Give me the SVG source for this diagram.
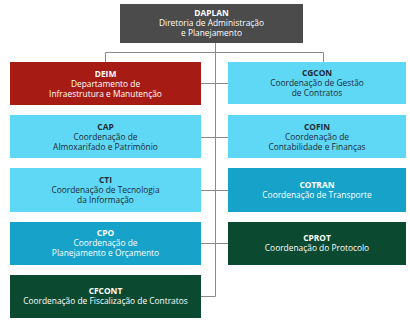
<svg xmlns="http://www.w3.org/2000/svg" width="410" height="324" viewBox="0 0 410 324">
<style>
text{font-family:"Open Sans","Noto Sans","Liberation Sans",sans-serif;font-size:8.4px;text-anchor:middle}
.t{font-weight:bold}
.w{fill:#ffffff}
.d{fill:#1e2a33}
.gray{fill:#4b4b4b}
.red{fill:#a61c15}
.cyan{fill:#5fd8f6}
.blue{fill:#17a3c9}
.green{fill:#0b4a31}
.c{stroke:#8a8a8a;stroke-width:1;fill:none}
</style>
<rect width="410" height="324" fill="#ffffff"/>
<g id="connectors" class="c">
<path d="M215.5 43V296.5H201"/>
<path d="M105.5 62V52.5H323.5V62"/>
<path d="M201 83.5H228"/>
<path d="M201 137.5H228"/>
<path d="M201 190.5H228"/>
<path d="M201 243.5H228"/>
</g>
<g id="DAPLAN">
<rect class="gray" x="120" y="4" width="183" height="39"/>
<text class="w t" x="211.5" y="16">DAPLAN</text>
<text class="w" x="211.5" y="26.3">Diretoria de Administração</text>
<text class="w" x="211.5" y="36.3">e Planejamento</text>
</g>
<g id="DEIM">
<rect class="red" x="10" y="62" width="191" height="43"/>
<text class="w t" x="105.5" y="76.5">DEIM</text>
<text class="w" x="105.5" y="86.8">Departamento de</text>
<text class="w" x="105.5" y="96.8">Infraestrutura e Manutenção</text>
</g>
<g id="CAP">
<rect class="cyan" x="10" y="115" width="191" height="43"/>
<text class="d t" x="105.5" y="129.5">CAP</text>
<text class="d" x="105.5" y="139.8">Coordenação de</text>
<text class="d" x="105.5" y="149.8">Almoxarifado e Patrimônio</text>
</g>
<g id="CTI">
<rect class="cyan" x="10" y="168" width="191" height="44"/>
<text class="d t" x="105.5" y="182.5">CTI</text>
<text class="d" x="105.5" y="192.8">Coordenação de Tecnologia</text>
<text class="d" x="105.5" y="202.8">da Informação</text>
</g>
<g id="CPO">
<rect class="blue" x="10" y="222" width="191" height="43"/>
<text class="w t" x="105.5" y="236">CPO</text>
<text class="w" x="105.5" y="246.3">Coordenação de</text>
<text class="w" x="105.5" y="256.3">Planejamento e Orçamento</text>
</g>
<g id="CFCONT">
<rect class="green" x="10" y="275" width="191" height="43"/>
<text class="w t" x="105.5" y="294">CFCONT</text>
<text class="w" x="105.5" y="304">Coordenação de Fiscalização de Contratos</text>
</g>
<g id="CGCON">
<rect class="cyan" x="228" y="62" width="178" height="42"/>
<text class="d t" x="317" y="76">CGCON</text>
<text class="d" x="317" y="86.3">Coordenação de Gestão</text>
<text class="d" x="317" y="96.3">de Contratos</text>
</g>
<g id="COFIN">
<rect class="cyan" x="228" y="115" width="178" height="43"/>
<text class="d t" x="317" y="129.5">COFIN</text>
<text class="d" x="317" y="139.8">Coordenação de</text>
<text class="d" x="317" y="149.8">Contabilidade e Finanças</text>
</g>
<g id="COTRAN">
<rect class="blue" x="228" y="168" width="178" height="44"/>
<text class="w t" x="317" y="188">COTRAN</text>
<text class="w" x="317" y="198.3">Coordenação de Transporte</text>
</g>
<g id="CPROT">
<rect class="green" x="228" y="222" width="178" height="43"/>
<text class="w t" x="317" y="241">CPROT</text>
<text class="w" x="317" y="251.3">Coordenação do Protocolo</text>
</g>
</svg>
